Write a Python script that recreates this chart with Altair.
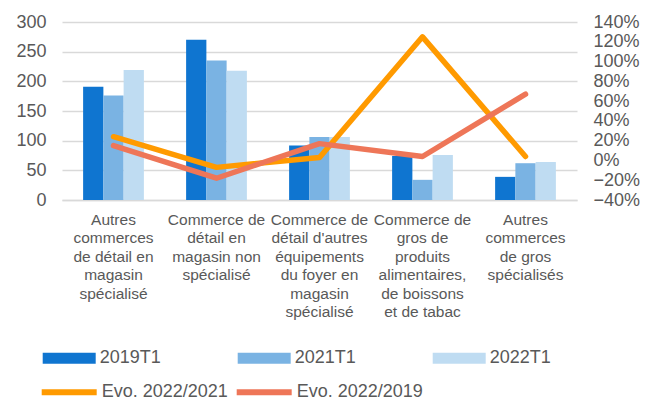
import altair as alt
import pandas as pd

categories = [
    "Autres|commerces|de détail en|magasin|spécialisé",
    "Commerce de|détail en|magasin non|spécialisé",
    "Commerce de|détail d'autres|équipements|du foyer en|magasin|spécialisé",
    "Commerce de|gros de|produits|alimentaires,|de boissons|et de tabac",
    "Autres|commerces|de gros|spécialisés",
]
periods = ["2019T1", "2021T1", "2022T1"]
v2019 = [191, 270, 92, 74, 39]
v2021 = [176, 235, 106, 34, 62]
v2022 = [219, 218, 106, 76, 64]

evo_names = ["Evo. 2022/2021", "Evo. 2022/2019"]
evo_2022_2021 = [0.24, -0.07, 0.03, 1.25, 0.04]
evo_2022_2019 = [0.15, -0.18, 0.17, 0.04, 0.67]

bar_colors = ["#0F75D0", "#7AB3E3", "#BFDCF2"]
line_colors = ["#FF9A00", "#EE7658"]

FONT = "Liberation Sans"
GREY = "#595959"

bars_df = pd.DataFrame({
    "cat": categories * 3,
    "period": [p for p in periods for _ in categories],
    "value": v2019 + v2021 + v2022,
})
lines_df = pd.DataFrame({
    "cat": categories * 2,
    "serie": [s for s in evo_names for _ in categories],
    "evo": evo_2022_2021 + evo_2022_2019,
})

x_enc = alt.X(
    "cat:N", sort=categories, title=None,
    scale=alt.Scale(paddingInner=0.41, paddingOuter=0.205),
    axis=alt.Axis(
        labelExpr="split(datum.value, '|')", labelAngle=0, labelFont=FONT,
        labelFontSize=15.5, labelColor=GREY, labelLineHeight=18.4,
        labelBaseline="top", labelPadding=12.5, labelLimit=200,
        labelOverlap=False, ticks=False, domainColor="#D9D9D9", domainWidth=1.5,
    ),
)

bars = alt.Chart(bars_df).mark_bar().encode(
    x=x_enc,
    xOffset=alt.XOffset("period:N", sort=periods, scale=alt.Scale(paddingInner=0)),
    y=alt.Y(
        "value:Q", title=None,
        scale=alt.Scale(domain=[0, 300], nice=False),
        axis=alt.Axis(
            values=[0, 50, 100, 150, 200, 250, 300], grid=True,
            gridColor="#D9D9D9", gridWidth=1.5, domain=False, ticks=False,
            labelFont=FONT, labelFontSize=18, labelColor=GREY, labelPadding=16,
        ),
    ),
    fill=alt.Fill(
        "period:N", sort=periods,
        scale=alt.Scale(domain=periods, range=bar_colors),
        legend=alt.Legend(
            title=None, orient="none", legendX=-19.3, legendY=309.5,
            direction="horizontal", columns=3, columnPadding=76,
            symbolType="M-1,-0.21H1V0.21H-1Z", symbolSize=2809,
            symbolStrokeWidth=0, labelOffset=4, labelFont=FONT,
            labelFontSize=18, labelColor=GREY,
        ),
    ),
)

lines = alt.Chart(lines_df).mark_line(strokeWidth=5.5, strokeJoin="round", strokeCap="round").encode(
    x=x_enc,
    y=alt.Y(
        "evo:Q", title=None,
        scale=alt.Scale(domain=[-0.4, 1.4], nice=False),
        axis=alt.Axis(
            orient="right", values=[-0.4, -0.2, 0, 0.2, 0.4, 0.6, 0.8, 1.0, 1.2, 1.4],
            format=".0%", grid=False, domain=False, ticks=False,
            labelFont=FONT, labelFontSize=18, labelColor=GREY, labelPadding=16,
        ),
    ),
    stroke=alt.Stroke(
        "serie:N", sort=evo_names,
        scale=alt.Scale(domain=evo_names, range=line_colors),
        legend=alt.Legend(
            title=None, orient="none", legendX=-23.3, legendY=339.5,
            direction="horizontal", columns=2, columnPadding=-4,
            symbolType="stroke", symbolSize=3025, symbolStrokeWidth=6,
            labelOffset=2, labelFont=FONT, labelFontSize=18, labelColor=GREY,
        ),
    ),
    detail="serie:N",
)

chart = alt.layer(bars, lines).resolve_scale(y="independent").properties(
    width=515, height=178,
    autosize=alt.AutoSizeParams(type="none"),
    padding={"left": 54, "top": 14, "right": 68, "bottom": 201},
).configure_view(stroke=None)

chart.save("out.html", embed_options={"renderer": "svg", "actions": False})
